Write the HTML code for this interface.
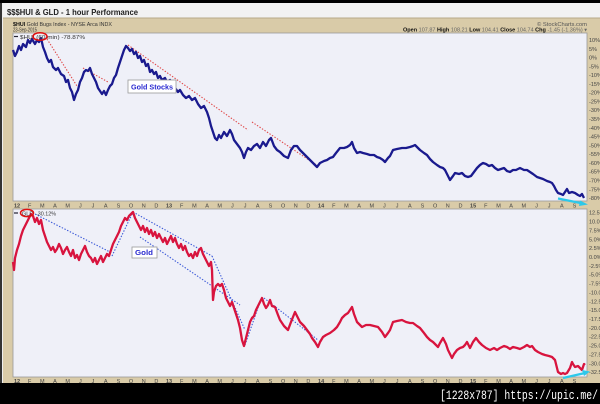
<!DOCTYPE html>
<html><head><meta charset="utf-8"><style>
html,body{margin:0;padding:0;background:#000;}
svg{display:block;}
</style></head><body>
<svg width="600" height="404" viewBox="0 0 600 404" xmlns="http://www.w3.org/2000/svg" font-family="Liberation Sans, sans-serif">
<rect x="0" y="0" width="600" height="404" fill="#000"/>
<rect x="0" y="3" width="600" height="380" fill="#d9cba8"/>
<rect x="0" y="3" width="2" height="380" fill="#333"/>
<rect x="2" y="3" width="1" height="380" fill="#eee"/>
<!-- title bar -->
<rect x="3" y="3" width="597" height="15" fill="#f2f2f2"/>
<line x1="3" y1="18" x2="600" y2="18" stroke="#b8aa88" stroke-width="1"/>
<text x="7" y="15" font-size="8.5" font-weight="bold" fill="#222" textLength="131" lengthAdjust="spacingAndGlyphs">$$$HUI &amp; GLD - 1 hour Performance</text>
<!-- header -->
<text x="13" y="26" font-size="5.5" fill="#333" textLength="99" lengthAdjust="spacingAndGlyphs"><tspan font-weight="bold" fill="#111">$HUI</tspan> Gold Bugs Index - NYSE Arca INDX</text>
<text x="13" y="31.5" font-size="5.5" fill="#333" textLength="24" lengthAdjust="spacingAndGlyphs">23-Sep-2015</text>
<text x="587" y="26" font-size="5.5" fill="#555" text-anchor="end" textLength="50" lengthAdjust="spacingAndGlyphs">© StockCharts.com</text>
<text x="587" y="31.5" font-size="5.5" fill="#666" text-anchor="end" textLength="184" lengthAdjust="spacingAndGlyphs"><tspan font-weight="bold" fill="#111">Open</tspan> 107.87 <tspan font-weight="bold" fill="#111">High</tspan> 108.21 <tspan font-weight="bold" fill="#111">Low</tspan> 104.41 <tspan font-weight="bold" fill="#111">Close</tspan> 104.74 <tspan font-weight="bold" fill="#111">Chg</tspan> -1.45 (-1.36%) ▾</text>

<!-- plot areas -->
<rect x="13" y="33" width="574" height="168" fill="#eff0f8" stroke="#999" stroke-width="0.8"/>
<rect x="13" y="209" width="574" height="168" fill="#eff0f8" stroke="#999" stroke-width="0.8"/>

<!-- top dotted red trendlines -->
<g stroke="#e04a4a" stroke-width="1.1" stroke-dasharray="1.4 1.6" fill="none">
<line x1="47" y1="39" x2="77" y2="86"/>
<line x1="83" y1="68" x2="108" y2="82"/>
<line x1="128" y1="45" x2="248" y2="130"/>
<line x1="252" y1="122" x2="318" y2="166"/>
</g>

<!-- top series HUI -->
<polyline fill="none" stroke="#1a1a8e" stroke-width="2.3" stroke-linejoin="round" points="13,50 15,56 17,52 19,46 21,50 23,44 26,47 28,40 30,43 32,39 35,44 37,40 39,42 41,38 43,47 45,52 47,58 49,62 51,60 53,67 56,70 58,68 61,74 64,76 66,82 68,80 70,88 72,92 74,100 76,94 78,90 80,82 82,78 84,72 86,70 88,71 90,68 92,74 94,78 96,82 98,88 100,91 102,94 104,91 106,95 108,90 110,86 112,84 114,78 116,75 118,68 120,62 122,56 124,50 126,46 128,48 130,51 132,49 134,54 136,52 138,58 140,56 142,62 144,60 146,66 148,64 150,72 152,70 154,74 156,72 158,78 160,76 162,80 165,78 167,82 170,80 172,86 175,88 178,92 180,90 183,95 186,98 189,96 192,100 195,98 198,104 201,108 204,106 207,112 209,118 211,126 213,132 215,138 217,140 219,135 221,138 224,132 227,136 230,130 232,134 234,140 237,144 240,148 242,152 244,158 246,152 248,148 251,150 254,146 257,144 260,148 263,142 266,146 269,140 271,138 274,146 277,150 280,152 284,156 288,158 291,150 294,146 297,146 300,150 304,154 307,157 310,160 313,163 317,167 320,163 324,161 327,160 330,158 333,157 336,153 340,148 344,148 347,147 350,145 352,142 354,148 357,153 360,152 363,153 367,154 370,155 374,155 377,157 380,158 383,160 385,162 388,158 390,156 393,150 397,149 402,148 406,148 410,147 413,146 415,145 418,148 420,150 424,153 427,155 430,159 433,162 437,165 440,167 443,168 445,170 448,176 450,180 453,176 455,173 459,174 462,173 465,176 468,177 471,176 474,172 477,168 480,165 483,163 486,164 489,166 492,165 495,168 498,170 501,169 504,168 507,171 510,172 513,170 516,170 520,168 524,170 527,170 530,172 533,174 537,177 540,178 543,179 547,181 550,182 552,183 554,186 556,190 558,193 561,194 563,195 565,192 567,189 569,193 572,192 575,193 578,195 580,196 582,194 584,198"/>

<!-- top legend -->
<line x1="14" y1="36.5" x2="18" y2="36.5" stroke="#223" stroke-width="1.2"/>
<text x="20" y="39" font-size="5.5" fill="#333" textLength="65" lengthAdjust="spacingAndGlyphs">$HUI (60 min) -78.87%</text>
<ellipse cx="40" cy="36.5" rx="7" ry="3.8" fill="none" stroke="#e01010" stroke-width="1.5"/>

<!-- Gold Stocks label -->
<rect x="128" y="80" width="48" height="13" fill="#fff" stroke="#999" stroke-width="0.8"/>
<text x="131" y="89.5" font-size="7" font-weight="bold" fill="#2a2ad0" textLength="42" lengthAdjust="spacingAndGlyphs">Gold Stocks</text>

<!-- top cyan arrow -->
<g stroke="#2cc8ea" stroke-width="2.2" fill="#2cc8ea">
<line x1="558" y1="198.5" x2="583" y2="203.5"/>
<polygon points="588,204.5 580,200.5 579,206" stroke="none"/>
</g>

<!-- bottom dotted blue trendlines -->
<g stroke="#3a58d8" stroke-width="1.1" stroke-dasharray="1.4 1.6" fill="none">
<line x1="35" y1="214" x2="112" y2="253"/>
<line x1="112" y1="256" x2="133" y2="212"/>
<line x1="133" y1="212" x2="212" y2="256"/>
<line x1="140" y1="237" x2="240" y2="305"/>
<line x1="212" y1="256" x2="245" y2="330"/>
<line x1="245" y1="345" x2="260" y2="302"/>
<line x1="264" y1="298" x2="318" y2="340"/>
</g>

<!-- bottom series GLD -->
<polyline fill="none" stroke="#d8143e" stroke-width="2.3" stroke-linejoin="round" points="13,262 14,270 15,258 17,250 19,244 21,236 23,230 25,226 27,222 29,218 31,214 33,216 35,222 37,218 39,224 41,220 43,230 45,236 47,242 49,246 51,250 53,247 55,252 57,249 59,244 61,248 63,254 65,250 67,247 69,252 71,256 73,250 75,258 77,255 79,260 81,254 83,250 85,246 87,252 89,256 91,258 93,262 95,258 97,264 99,260 101,256 103,262 105,258 107,254 109,256 111,250 113,244 115,240 117,236 119,232 121,226 123,222 125,218 127,220 129,216 131,214 133,212 135,218 137,222 139,226 141,230 143,226 145,232 147,228 149,234 151,230 153,236 155,232 157,238 159,234 161,238 163,242 165,238 167,244 169,240 171,236 173,242 175,238 177,244 179,248 181,244 183,250 185,246 187,252 189,256 191,254 193,258 195,252 197,256 199,250 201,248 203,254 205,258 207,262 209,266 211,262 212,270 213,300 214,292 216,286 218,284 220,286 222,284 224,290 226,298 228,302 230,306 232,302 234,308 236,314 238,320 240,328 242,340 244,346 246,338 248,330 250,322 252,318 254,316 256,310 258,306 260,302 262,298 264,304 266,308 268,305 270,300 272,306 275,307 278,315 280,320 284,326 288,330 291,322 295,312 298,318 300,322 304,326 307,330 310,334 312,338 315,342 318,347 320,342 323,337 326,335 330,333 334,330 337,327 340,322 342,318 345,315 348,313 350,310 352,307 354,314 357,322 360,325 362,327 366,325 370,325 374,326 378,327 382,332 385,337 388,333 390,330 393,322 397,321 402,320 406,322 410,323 413,323 417,326 420,328 424,333 427,337 430,340 433,342 436,345 438,347 440,343 443,338 446,344 448,350 450,354 452,358 454,354 457,350 460,348 463,347 465,345 467,342 470,348 473,342 476,338 479,342 482,345 486,348 490,350 494,348 497,350 500,348 504,346 507,347 510,349 513,347 517,348 520,349 524,347 527,345 530,347 532,346 535,350 538,352 542,354 545,355 549,356 552,357 555,360 557,368 558,372 561,374 563,373 565,374 567,373 570,368 572,362 573,364 575,367 578,366 580,368 582,370 584,364 585,365"/>

<!-- bottom legend -->
<line x1="14" y1="213" x2="18" y2="213" stroke="#223" stroke-width="1.2"/>
<text x="22" y="215.5" font-size="5.5" fill="#333">GLD</text>
<ellipse cx="27" cy="213" rx="6.5" ry="3.6" fill="none" stroke="#e01010" stroke-width="1.5"/>
<text x="36" y="215.5" font-size="5.5" fill="#333" textLength="20" lengthAdjust="spacingAndGlyphs">-30.12%</text>

<!-- Gold label -->
<rect x="132" y="247" width="25" height="11" fill="#fff" stroke="#999" stroke-width="0.8"/>
<text x="135" y="255" font-size="7" font-weight="bold" fill="#2a2ad0" textLength="18" lengthAdjust="spacingAndGlyphs">Gold</text>

<!-- bottom cyan arrow -->
<g stroke="#2cc8ea" stroke-width="2.2" fill="#2cc8ea">
<line x1="563" y1="378" x2="585" y2="373"/>
<polygon points="590,371.5 582,370 584,376" stroke="none"/>
</g>

<!-- right axis labels -->
<g font-size="5.5" fill="#444">
<text x="589" y="42">10%</text><text x="589" y="50.8">5%</text><text x="589" y="59.6">0%</text><text x="589" y="68.3">-5%</text><text x="589" y="77.1">-10%</text><text x="589" y="85.9">-15%</text><text x="589" y="94.7">-20%</text><text x="589" y="103.5">-25%</text><text x="589" y="112.2">-30%</text><text x="589" y="121">-35%</text><text x="589" y="129.8">-40%</text><text x="589" y="138.6">-45%</text><text x="589" y="147.4">-50%</text><text x="589" y="156.1">-55%</text><text x="589" y="164.9">-60%</text><text x="589" y="173.7">-65%</text><text x="589" y="182.5">-70%</text><text x="589" y="191.3">-75%</text><text x="589" y="200">-80%</text>
<text x="589" y="214.7">12.5%</text><text x="589" y="223.6">10.0%</text><text x="589" y="232.4">7.5%</text><text x="589" y="241.3">5.0%</text><text x="589" y="250.1">2.5%</text><text x="589" y="259">0.0%</text><text x="589" y="267.9">-2.5%</text><text x="589" y="276.7">-5.0%</text><text x="589" y="285.6">-7.5%</text><text x="589" y="294.4">-10.0%</text><text x="589" y="303.3">-12.5%</text><text x="589" y="312.2">-15.0%</text><text x="589" y="321">-17.5%</text><text x="589" y="329.9">-20.0%</text><text x="589" y="338.7">-22.5%</text><text x="589" y="347.6">-25.0%</text><text x="589" y="356.5">-27.5%</text><text x="589" y="365.3">-30.0%</text><text x="589" y="374.2">-32.5%</text>
</g>

<!-- date axis labels -->
<g font-size="5.5" fill="#444" text-anchor="middle" transform="translate(0,207.5)">
<text x="17" font-weight="bold">12</text><text x="29.7">F</text><text x="42.3">M</text><text x="55">A</text><text x="67.7">M</text><text x="80.4">J</text><text x="93">J</text><text x="105.7">A</text><text x="118.4">S</text><text x="131">O</text><text x="143.7">N</text><text x="156.4">D</text>
<text x="169" font-weight="bold">13</text><text x="181.7">F</text><text x="194.4">M</text><text x="207.1">A</text><text x="219.7">M</text><text x="232.4">J</text><text x="245.1">J</text><text x="257.7">A</text><text x="270.4">S</text><text x="283.1">O</text><text x="295.7">N</text><text x="308.4">D</text>
<text x="321.1" font-weight="bold">14</text><text x="333.8">F</text><text x="346.4">M</text><text x="359.1">A</text><text x="371.8">M</text><text x="384.4">J</text><text x="397.1">J</text><text x="409.8">A</text><text x="422.4">S</text><text x="435.1">O</text><text x="447.8">N</text><text x="460.5">D</text>
<text x="473.1" font-weight="bold">15</text><text x="485.8">F</text><text x="498.5">M</text><text x="511.1">A</text><text x="523.8">M</text><text x="536.5">J</text><text x="549.1">J</text><text x="561.8">A</text><text x="574.5">S</text>
</g>
<g font-size="5.5" fill="#444" text-anchor="middle" transform="translate(0,383)">
<text x="17" font-weight="bold">12</text><text x="29.7">F</text><text x="42.3">M</text><text x="55">A</text><text x="67.7">M</text><text x="80.4">J</text><text x="93">J</text><text x="105.7">A</text><text x="118.4">S</text><text x="131">O</text><text x="143.7">N</text><text x="156.4">D</text>
<text x="169" font-weight="bold">13</text><text x="181.7">F</text><text x="194.4">M</text><text x="207.1">A</text><text x="219.7">M</text><text x="232.4">J</text><text x="245.1">J</text><text x="257.7">A</text><text x="270.4">S</text><text x="283.1">O</text><text x="295.7">N</text><text x="308.4">D</text>
<text x="321.1" font-weight="bold">14</text><text x="333.8">F</text><text x="346.4">M</text><text x="359.1">A</text><text x="371.8">M</text><text x="384.4">J</text><text x="397.1">J</text><text x="409.8">A</text><text x="422.4">S</text><text x="435.1">O</text><text x="447.8">N</text><text x="460.5">D</text>
<text x="473.1" font-weight="bold">15</text><text x="485.8">F</text><text x="498.5">M</text><text x="511.1">A</text><text x="523.8">M</text><text x="536.5">J</text><text x="549.1">J</text><text x="561.8">A</text><text x="574.5">S</text>
</g>

<!-- bottom black bar -->
<rect x="0" y="383" width="600" height="21" fill="#000"/>
<text x="598" y="399" font-family="Liberation Mono, monospace" font-size="12.5" fill="#fff" text-anchor="end" textLength="158" lengthAdjust="spacingAndGlyphs">[1228x787] https://upic.me/</text>
</svg>
</body></html>
